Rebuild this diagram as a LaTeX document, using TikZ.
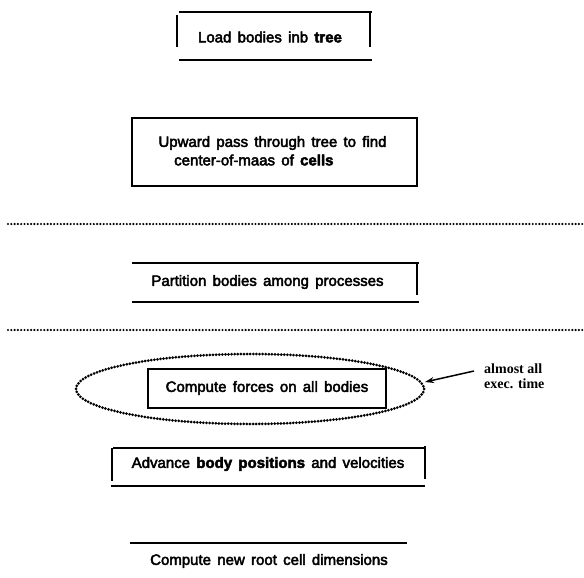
\documentclass[tikz,border=0pt]{standalone}
\usepackage{fontspec}
\setmainfont{Liberation Sans}[WordSpace=1.5]
\newfontfamily\notefont{Liberation Serif}
\usetikzlibrary{arrows.meta}
% heavier ink for the printed labels: fill and stroke the glyphs
\newcommand\inked[1]{\special{pdf:literal 2 Tr 0.45 w}#1\special{pdf:literal 0 Tr 0.4 w}}
\begin{document}
\begin{tikzpicture}[x=1pt,y=-1pt,
  rule/.style={line width=1.8pt},
  bar/.style={line width=1.4pt},
  dotline/.style={line width=2.4pt, line cap=round, dash pattern=on 0pt off 3.3pt},
  dotring/.style={line width=3pt, line cap=round, dash pattern=on 0pt off 3.1pt},
  label/.style={inner sep=0pt, font=\fontsize{15}{17}\selectfont},
  note/.style={inner sep=0pt, anchor=west, font=\notefont\bfseries\fontsize{14}{15}\selectfont}]
\useasboundingbox (0,0) rectangle (584,578);

% Load bodies into tree
\node[label] (load) at (270,37) {\inked{Load bodies inb \textbf{tree}}};
\draw[rule] (179,12) -- (372,12);
\draw[rule] (179,60) -- (372,60);
\draw[bar] (177,15) -- (177,47);
\draw[bar] (370,12) -- (370,47);

% Upward pass
\draw[rule] (132,118) rectangle (417,186);
\node[label] (up1) at (272.5,143) {\inked{Upward pass through tree to find}};
\node[label, anchor=west] (up2) at (174,160) {\inked{center-of-maas of \textbf{cells}}};

% phase separator
\draw[dotline] (8,224) -- (584,224);

% Partition
\node[label] (part) at (267.5,282) {\inked{Partition bodies among processes}};
\draw[rule] (132,263) -- (419,263);
\draw[rule] (132,302) -- (419,302);
\draw[bar] (417,263) -- (417,295);

% phase separator
\draw[dotline] (8,330) -- (584,330);

% Force computation, highlighted
\draw[dotring] (250,389) ellipse [x radius=174, y radius=35];
\draw[rule] (148,369) rectangle (386,408);
\node[label] (force) at (267,388) {\inked{Compute forces on all bodies}};
\coordinate (ringE) at (425,382);
\node[note] (note1) at (484,369) {almost all};
\node[note] (note2) at (484,384) {exec. time};
\coordinate (noteW) at (474,371);
\draw[line width=1.5pt, -{Stealth[length=9pt,width=6pt]}] (noteW) -- (ringE);

% Advance bodies
\node[label] (adv) at (268,464) {\inked{Advance \textbf{body positions} and velocities}};
\draw[rule] (113,448) -- (425,448);
\draw[rule] (111,486) -- (425,486);
\draw[bar] (112,448) -- (112,481);
\draw[bar] (425,446) -- (425,479);

% Root cell
\draw[rule] (130,543) -- (407,543);
\node[label] (root) at (269,561) {\inked{Compute new root cell dimensions}};
\end{tikzpicture}
\end{document}
